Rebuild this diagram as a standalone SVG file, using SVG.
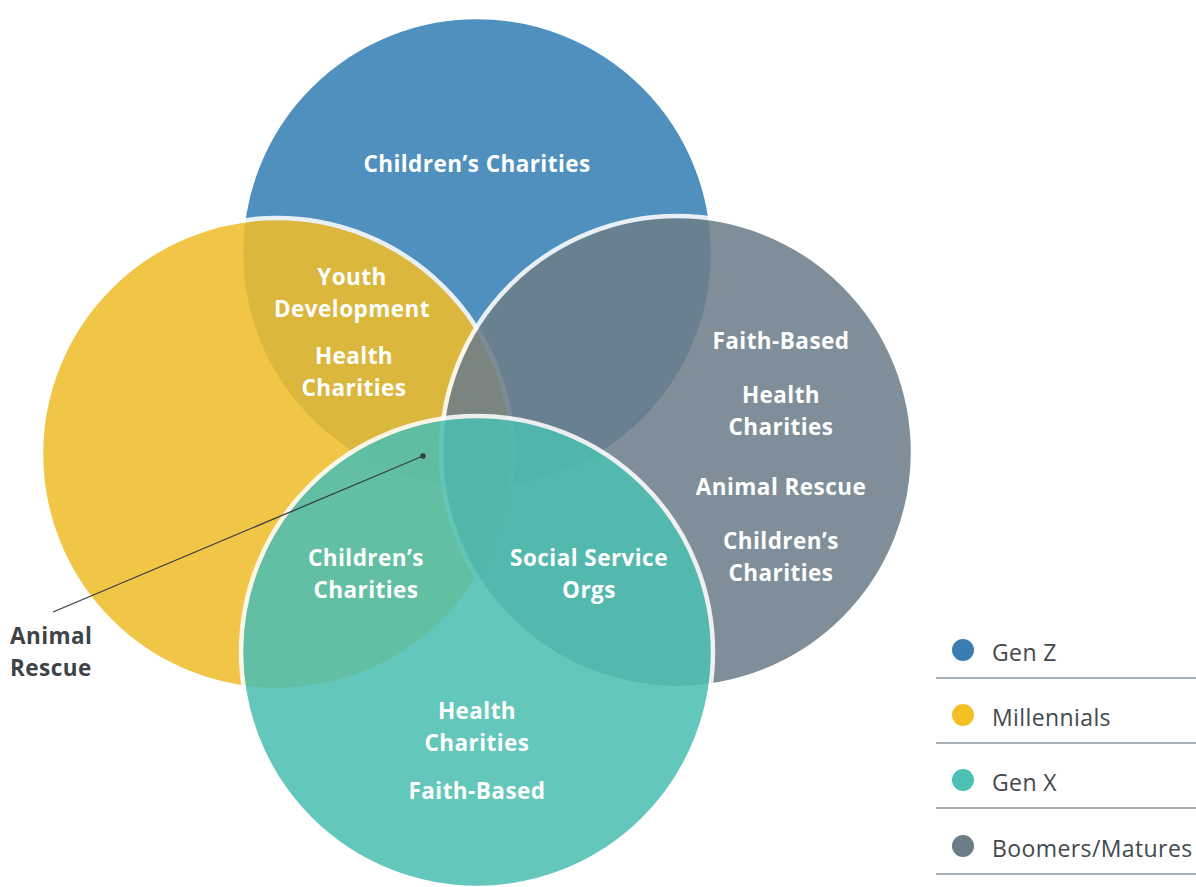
<svg xmlns="http://www.w3.org/2000/svg" width="1196" height="887" viewBox="0 0 1196 887">
  <style>
    .ring { stroke: #ffffff; stroke-width: 4.5; }
    .lbl { font-family: "Open Sans", "Liberation Sans", sans-serif; font-weight: 700; font-size: 22.5px; letter-spacing: 0.45px; fill: #ffffff; text-anchor: middle; }
    .call { font-family: "Open Sans", "Liberation Sans", sans-serif; font-weight: 700; font-size: 22.5px; letter-spacing: 0.45px; fill: #3d4347; }
    .key { font-family: "Open Sans", "Liberation Sans", sans-serif; font-weight: 400; font-size: 23px; letter-spacing: 0.4px; fill: #43494d; }
    .rule { stroke: #8896a0; stroke-width: 1.6; }
  </style>
  <rect width="1196" height="887" fill="#ffffff"/>

  <!-- Venn circles, stacked bottom to top -->
  <g id="gen-z">
    <circle class="ring" cx="477" cy="253" r="236" fill="#5090be"/>
    <text class="lbl" x="477" y="172">Children’s Charities</text>
  </g>
  <g id="millennials">
    <circle class="ring" cx="277" cy="454" r="236" fill="#f0bd2a" opacity="0.87"/>
  </g>
  <g id="boomers">
    <circle class="ring" cx="677" cy="452" r="236" fill="#6d7e8a" opacity="0.87"/>
  </g>
  <g id="gen-x">
    <circle class="ring" cx="477" cy="652" r="236" fill="#4dbfb1" opacity="0.87"/>
  </g>

  <!-- Region labels -->
  <g id="labels-genz-millennials">
    <text class="lbl" x="352" y="285">Youth</text>
    <text class="lbl" x="352" y="317">Development</text>
    <text class="lbl" x="354" y="364">Health</text>
    <text class="lbl" x="354" y="396">Charities</text>
  </g>
  <g id="labels-boomers">
    <text class="lbl" x="781" y="349">Faith-Based</text>
    <text class="lbl" x="781" y="403">Health</text>
    <text class="lbl" x="781" y="435">Charities</text>
    <text class="lbl" x="781" y="495">Animal Rescue</text>
    <text class="lbl" x="781" y="549">Children’s</text>
    <text class="lbl" x="781" y="581">Charities</text>
  </g>
  <g id="labels-millennials-genx">
    <text class="lbl" x="366" y="566">Children’s</text>
    <text class="lbl" x="366" y="598">Charities</text>
  </g>
  <g id="labels-boomers-genx">
    <text class="lbl" x="589" y="566">Social Service</text>
    <text class="lbl" x="589" y="598">Orgs</text>
  </g>
  <g id="labels-genx">
    <text class="lbl" x="477" y="719">Health</text>
    <text class="lbl" x="477" y="751">Charities</text>
    <text class="lbl" x="477" y="799">Faith-Based</text>
  </g>

  <!-- Callout for the four-way overlap -->
  <g id="connectors">
    <line x1="53" y1="612" x2="423" y2="456" stroke="#3a3f44" stroke-width="1.3"/>
    <circle cx="423" cy="456" r="2.8" fill="#3a3f44"/>
  </g>
  <g id="callout-animal-rescue">
    <text class="call" x="10" y="644">Animal</text>
    <text class="call" x="10" y="676">Rescue</text>
  </g>

  <!-- Legend -->
  <g id="legend">
    <circle cx="963" cy="650" r="11" fill="#3a7db3"/>
    <text class="key" x="992" y="661">Gen Z</text>
    <line class="rule" x1="936" y1="678" x2="1196" y2="678"/>
    <circle cx="963" cy="715" r="11" fill="#f3bf25"/>
    <text class="key" x="992" y="726">Millennials</text>
    <line class="rule" x1="936" y1="743" x2="1196" y2="743"/>
    <circle cx="963" cy="780" r="11" fill="#4cc1b3"/>
    <text class="key" x="992" y="791">Gen X</text>
    <line class="rule" x1="936" y1="808" x2="1196" y2="808"/>
    <circle cx="963" cy="846" r="11" fill="#6c7d87"/>
    <text class="key" x="992" y="857">Boomers/Matures</text>
    <line class="rule" x1="936" y1="874" x2="1196" y2="874"/>
  </g>
</svg>
